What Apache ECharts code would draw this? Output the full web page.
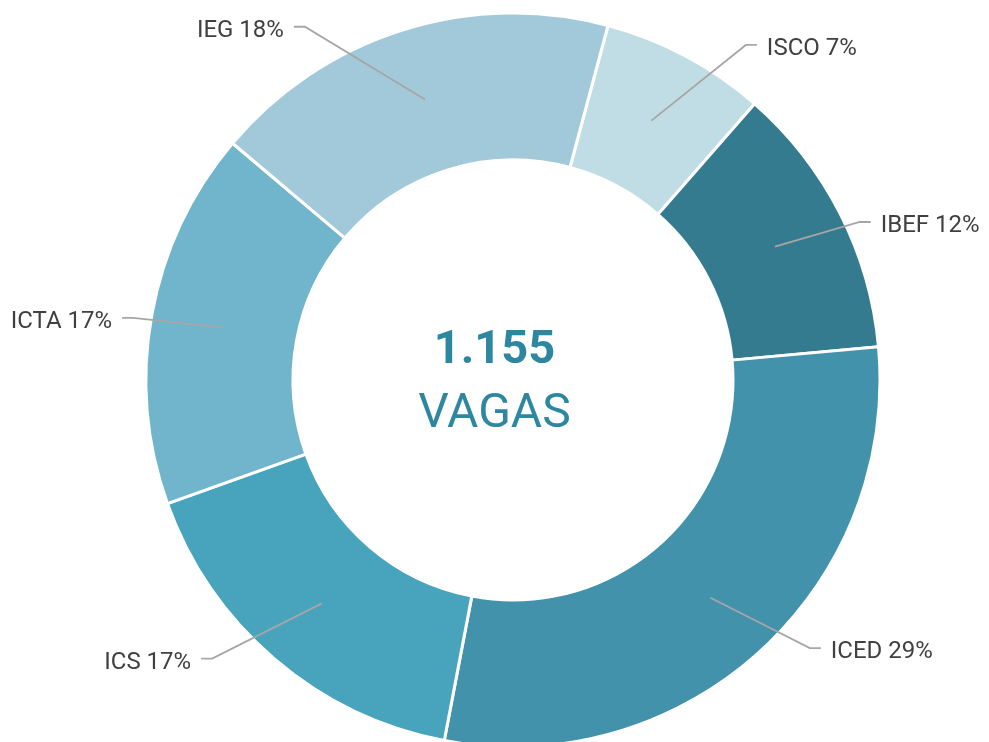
<!DOCTYPE html>
<html>
<head>
<meta charset="utf-8">
<script src="https://cdn.jsdelivr.net/npm/echarts@6/dist/echarts.min.js"></script>
<style>
  html, body { margin: 0; padding: 0; background: #fff; }
  #chart { width: 989px; height: 742px; }
</style>
</head>
<body>
<div id="chart"></div>
<script>
// vagas por instituto (total 1.155)
const names = ['ISCO', 'IBEF', 'ICED', 'ICS', 'ICTA', 'IEG'];
const values = [84, 140, 340, 191, 192, 208];
const colors = ['#c0dce4', '#357b8f', '#4192aa', '#48a4bd', '#70b5cb', '#a2c9d9'];
const totalText = '1.155';
const unitText = 'VAGAS';

// where each leader line bends: [angle clockwise from top in deg, radius px]
const labelBends = [[34.8, 408], [65.5, 381], [132.1, 400], [227.2, 410], [279.3, 385], [329.5, 410]];

const cx = 513, cy = 380;

let myChart = echarts.init(document.getElementById('chart'));

let ringData = [];
let labelData = [];
for (let i = 0; i < names.length; i++) {
  ringData.push({ name: names[i], value: values[i], itemStyle: { color: colors[i] } });
  labelData.push({ name: names[i], value: values[i] });
}

let option = {
  animation: false,
  graphic: [
    {
      type: 'text',
      left: 'center',
      top: 328,
      style: {
        text: totalText,
        fontFamily: 'Roboto',
        fontWeight: 'bold',
        fontSize: 47,
        fill: '#2e87a0'
      }
    },
    {
      type: 'text',
      left: 'center',
      top: 391,
      style: {
        text: unitText,
        fontFamily: 'Roboto',
        fontSize: 48,
        fill: '#2e87a0'
      }
    }
  ],
  series: [
    {
      type: 'pie',
      center: [cx, cy],
      radius: [220, 367],
      startAngle: 75,
      clockwise: true,
      silent: true,
      itemStyle: {
        borderColor: '#ffffff',
        borderWidth: 3
      },
      label: { show: false },
      labelLine: { show: false },
      data: ringData
    },
    {
      // invisible pie up to the middle of the ring, only used for labels
      type: 'pie',
      center: [cx, cy],
      radius: [0, 294],
      startAngle: 75,
      clockwise: true,
      silent: true,
      z: 5,
      percentPrecision: 0,
      itemStyle: { color: 'rgba(0,0,0,0)' },
      label: {
        show: true,
        position: 'outside',
        formatter: '{b} {d}%',
        fontFamily: 'Roboto',
        fontSize: 24,
        color: '#404040',
        overflow: 'none'
      },
      labelLine: {
        show: true,
        length: 100,
        length2: 12,
        lineStyle: { color: '#a6a6a6', width: 1.8 }
      },
      labelLayout: function (params) {
        let b = labelBends[params.dataIndex];
        let a = b[0] * Math.PI / 180;
        let bx = cx + b[1] * Math.sin(a);
        let by = cy - b[1] * Math.cos(a);
        let right = bx > cx;
        let ex = bx + (right ? 11 : -11);
        return {
          x: ex + (right ? 10 : -10),
          y: by + 4,
          align: right ? 'left' : 'right',
          verticalAlign: 'middle',
          labelLinePoints: [params.labelLinePoints[0], [bx, by], [ex, by]]
        };
      },
      data: labelData
    }
  ]
};
myChart.setOption(option);
</script>
</body>
</html>
